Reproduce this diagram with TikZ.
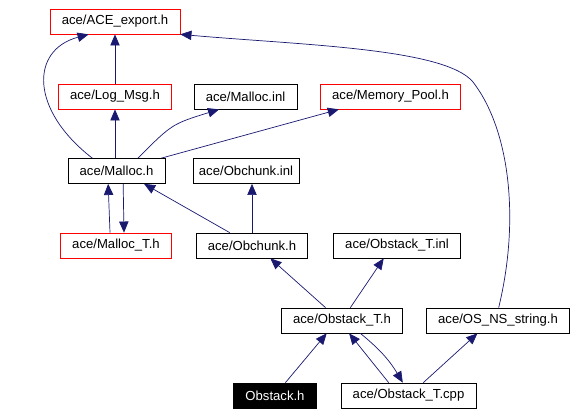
\documentclass[tikz,border=0pt]{standalone}
\usepackage{fontspec}
\setmainfont{Liberation Sans}
\usepackage{tikz}
\usetikzlibrary{shapes, arrows.meta}
\definecolor{edgeblue}{HTML}{191970}
\tikzstyle{header} = [rectangle, minimum height=0.75cm, inner xsep=10pt, text centered, draw=black, line width=0.6pt]
\tikzstyle{missing} = [header, draw=red]
\tikzstyle{current} = [header, fill=black, text=white]
\tikzstyle{arrow} = [draw=edgeblue, line width=0.6pt, -{Triangle[length=9.5pt,width=8pt]}]

\begin{document}
\begin{tikzpicture}[x=0.03cm, y=-0.03cm, font=\fontsize{11.2}{13}\selectfont]
    \useasboundingbox (0,0) rectangle (578,415);
    \node (export) [missing] at (115,21.5) {ace/ACE\_export.h};
    \node (logmsg) [missing] at (115,96.5) {ace/Log\_Msg.h};
    \node (mallocinl) [header] at (245.5,96.5) {ace/Malloc.inl};
    \node (mempool) [missing] at (390.5,96.5) {ace/Memory\_Pool.h};
    \node (malloch) [header] at (116.5,171) {ace/Malloc.h};
    \node (obchunkinl) [header, inner xsep=5pt] at (246,171) {ace/Obchunk.inl};
    \node (malloct) [missing] at (116,245.5) {ace/Malloc\_T.h};
    \node (obchunkh) [header] at (252,245.5) {ace/Obchunk.h};
    \node (obstackinl) [header] at (397,245.5) {ace/Obstack\_T.inl};
    \node (obstackh) [header] at (342,320.5) {ace/Obstack\_T.h};
    \node (osns) [header] at (498,320.5) {ace/OS\_NS\_string.h};
    \node (obstack) [current] at (275,395.5) {Obstack.h};
    \node (obstackcpp) [header] at (408.5,395.5) {ace/Obstack\_T.cpp};

    \draw [arrow] (logmsg) -- (export);
    \draw [arrow] (malloch.152) .. controls (30,110) and (30,50) .. (export.206);
    \draw [arrow] (malloch.north -| logmsg) -- (logmsg);
    \draw [arrow] (malloch.31) .. controls (172,124) .. (mallocinl.206);
    \draw [arrow] (malloch.16) -- (mempool.194);
    \draw [arrow] ([xshift=-0.18cm]malloct.north) -- ([xshift=-0.25cm]malloch.south);
    \draw [arrow] ([xshift=0.2cm]malloch.south) -- ([xshift=0.24cm]malloct.north);
    \draw [arrow] (obchunkh.150) -- (malloch.335);
    \draw [arrow] (obchunkh) -- (obchunkh |- obchunkinl.south);
    \draw [arrow] (obstackh.142) -- (obchunkh.325);
    \draw [arrow] (obstackh.57) -- (obstackinl.224);
    \draw [arrow] (obstack.51) -- (obstackh.220);
    \draw [arrow] (obstackcpp.147) -- (obstackh.299);
    \draw [arrow] (obstackh.325) to[bend left=10] (obstackcpp.114);
    \draw [arrow] (obstackcpp.41) -- (osns.212);
    \draw [arrow] (osns.87) .. controls (520,220) and (510,130) .. (473,82) .. controls (445,48) and (300,45) .. (export.south east);
\end{tikzpicture}
\end{document}
